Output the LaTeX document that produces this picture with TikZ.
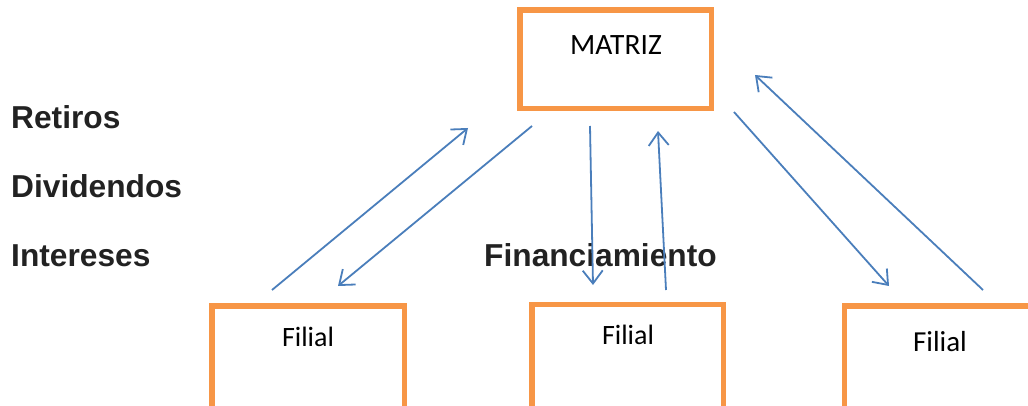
\documentclass[tikz,border=0pt]{standalone}
\usepackage{fontspec}
\setmainfont{Carlito}
\newfontfamily\labelfont{Liberation Sans}
\usetikzlibrary{arrows.meta}
\definecolor{boxorange}{HTML}{F79646}
\definecolor{flowblue}{HTML}{4A7EBB}
\definecolor{inkgray}{HTML}{222222}
\tikzset{
  unitbox/.style={draw=boxorange, line width=5.5pt, rectangle, inner sep=0pt},
  boxtext/.style={anchor=base, inner sep=0pt, text=black, font=\fontsize{28}{32}\selectfont},
  flowlabel/.style={anchor=base west, inner sep=0pt, text=inkgray,
    font=\labelfont\bfseries\fontsize{31.7}{36}\selectfont},
  flow/.style={draw=flowblue, line width=1.8pt,
    -{Straight Barb[length=13pt,width=20pt,line width=1.8pt]}}
}
\begin{document}
\begin{tikzpicture}[x=1pt,y=-1pt]
  \useasboundingbox (0,0) rectangle (1028,406);

  % parent company
  \node[unitbox, minimum width=191.5pt, minimum height=98.5pt] (matriz) at (615.75,59.25) {};
  \node[boxtext, font=\fontsize{29.5}{33}\selectfont] (matriztxt) at (616,55) {MATRIZ};

  % subsidiaries (their lower edges run past the page)
  \node[unitbox, minimum width=192.5pt, minimum height=140pt] (fil1) at (308.25,376) {};
  \node[boxtext] (fil1txt) at (308,346) {Filial};
  \node[unitbox, minimum width=191.5pt, minimum height=140pt] (fil2) at (627.75,374.5) {};
  \node[boxtext] (fil2txt) at (628,344) {Filial};
  \node[unitbox, minimum width=195.5pt, minimum height=140pt] (fil3) at (942.25,376) {};
  \node[boxtext, font=\fontsize{29}{33}\selectfont] (fil3txt) at (940,351) {Filial};

  % flow labels
  \node[flowlabel] (retiros) at (11,129) {Retiros};
  \node[flowlabel] (dividendos) at (11,198) {Dividendos};
  \node[flowlabel] (intereses) at (11,266) {Intereses};
  \node[flowlabel] (financ) at (484,266) {Financiamiento};

  % arrow end points
  \coordinate (f1up)   at (272,290);
  \coordinate (m1in)   at (468,128);
  \coordinate (m1out)  at (532,126);
  \coordinate (f1in)   at (338,286);
  \coordinate (m2out)  at (590,126);
  \coordinate (f2in)   at (593,285);
  \coordinate (f2up)   at (666,290);
  \coordinate (m2in)   at (658,131);
  \coordinate (m3out)  at (734,112);
  \coordinate (f3in)   at (889,286);
  \coordinate (f3up)   at (983,290);
  \coordinate (m3in)   at (755,75);

  % flows between parent and subsidiaries
  \draw[flow] (f1up) -- (m1in);
  \draw[flow] (m1out) -- (f1in);
  \draw[flow] (m2out) -- (f2in);
  \draw[flow] (f2up) -- (m2in);
  \draw[flow] (m3out) -- (f3in);
  \draw[flow] (f3up) -- (m3in);
\end{tikzpicture}
\end{document}
